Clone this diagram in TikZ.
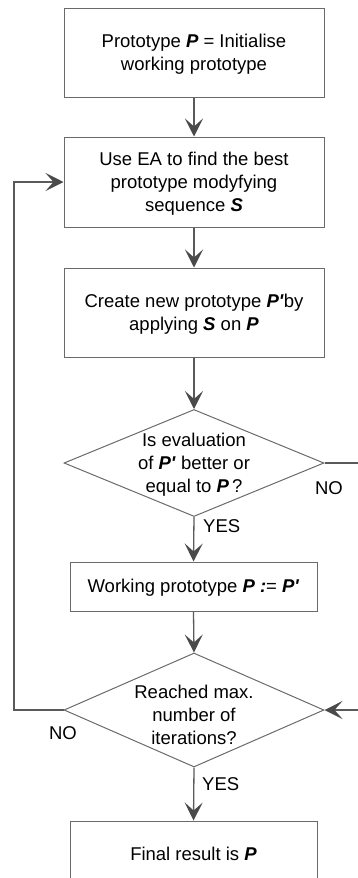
\documentclass[tikz,border=0pt]{standalone}
\usepackage{fontspec}
\setmainfont{Liberation Sans}
\usetikzlibrary{shapes.geometric,arrows.meta}
\definecolor{boxline}{HTML}{6A6A6A}
\definecolor{conline}{HTML}{5A5A5A}
\definecolor{tipcol}{HTML}{4A4A4A}
\newcommand{\bi}[1]{\textbf{\textit{#1}}}
\tikzset{
  x=1pt, y=-1pt,
  txt/.style={font=\fontsize{18.5}{23}\selectfont, align=center, inner sep=0pt},
  procbox/.style={draw=boxline, line width=1pt, rectangle, inner sep=0pt},
  decbox/.style={draw=boxline, line width=1pt, diamond, inner sep=0pt},
  conn/.style={draw=conline, line width=1.3pt},
  arr/.style={conn, -{Stealth[length=18pt, width=18pt, inset=8pt, fill=tipcol, color=tipcol]}},
}
\begin{document}
\begin{tikzpicture}
\useasboundingbox (0,0) rectangle (358,878);
\clip (0,0) rectangle (358,878);

\node[procbox, minimum width=260pt, minimum height=89pt] (b1) at (194,52.5) {};
\node[txt] (t1) at (194,54.5) {Prototype \bi{P} = Initialise\\ working prototype};

\node[procbox, minimum width=260pt, minimum height=90pt] (b2) at (194,182) {};
\node[txt] (t2) at (194,184) {Use EA to find the best\\prototype modyfying\\sequence \bi{S}};

\node[procbox, minimum width=260pt, minimum height=89pt] (b3) at (194,312.5) {};
\node[txt] (t3) at (194,314) {Create new prototype \bi{P\textquotesingle}by\\applying \bi{S} on \bi{P}};

\node[decbox, minimum width=260pt, minimum height=107pt] (d1) at (194,463) {};
\node[txt] (t4) at (194,465) {Is evaluation\\of \bi{P\textquotesingle}\ better or\\equal to \bi{P}\,?};

\node[procbox, minimum width=247pt, minimum height=49pt] (b4) at (193.5,586.5) {};
\node[txt] (t5) at (193.5,588) {Working prototype \bi{P} \bi{:}= \bi{P\textquotesingle}};

\node[decbox, minimum width=260pt, minimum height=114pt] (d2) at (194,710) {};
\node[txt] (t6) at (194,715) {Reached max.\\number of\\iterations?};

\node[procbox, minimum width=247pt, minimum height=70pt] (b5) at (193.5,856) {};
\node[txt] (t7) at (193.5,854) {Final result is \bi{P}};

\coordinate (lft) at (14,710);
\coordinate (rgt) at (364,463);

\draw[arr] (b1.south) -- (b2.north);
\draw[arr] (b2.south) -- (b3.north);
\draw[arr] (b3.south) -- (d1.north);
\draw[arr] (d1.south) -- (b4.north);
\draw[arr] (b4.south) -- (d2.north);
\draw[arr] (d2.south) -- (b5.north);
\draw[arr] (d2.west) -- (lft) |- (b2.west);
\draw[arr] (d1.east) -- (rgt) |- (d2.east);

\node[txt, anchor=west] (y1) at (203,526) {YES};
\node[txt, anchor=west] (y2) at (202,784) {YES};
\node[txt] (n1) at (329,488) {NO};
\node[txt] (n2) at (63,733) {NO};
\end{tikzpicture}
\end{document}
